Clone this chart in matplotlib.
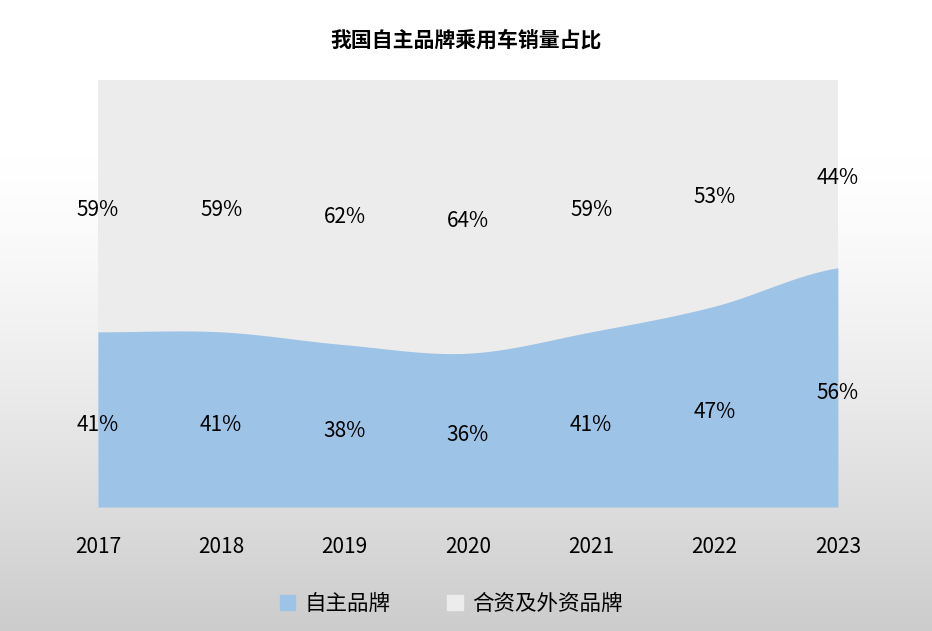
import numpy as np
import matplotlib
matplotlib.use("Agg")
import matplotlib.pyplot as plt

plt.rcParams['font.family'] = ['Noto Sans CJK SC', 'DejaVu Sans']

years = ['2017', '2018', '2019', '2020', '2021', '2022', '2023']
domestic = [41, 41, 38, 36, 41, 47, 56]
foreign = [59, 59, 62, 64, 59, 53, 44]

def smooth(x, y, n=30):
    # Catmull-Rom spline for the smoothed area edge
    x = np.asarray(x, float); y = np.asarray(y, float)
    px = np.concatenate([[2 * x[0] - x[1]], x, [2 * x[-1] - x[-2]]])
    py = np.concatenate([[y[0]], y, [y[-1]]])
    xs, ys = [], []
    for i in range(1, len(px) - 2):
        t = np.linspace(0, 1, n, endpoint=False)
        for p, out in ((px, xs), (py, ys)):
            p0, p1, p2, p3 = p[i - 1], p[i], p[i + 1], p[i + 2]
            out.append(0.5 * (2 * p1 + (-p0 + p2) * t + (2 * p0 - 5 * p1 + 4 * p2 - p3) * t ** 2
                              + (-p0 + 3 * p1 - 3 * p2 + p3) * t ** 3))
    xs.append([x[-1]]); ys.append([y[-1]])
    return np.concatenate(xs), np.concatenate(ys)

fig = plt.figure(figsize=(9.32, 6.31), dpi=100)
bg = fig.add_axes([0, 0, 1, 1], zorder=-10)
grad = np.linspace(0, 1, 256).reshape(-1, 1)
grad = 1 - 0.2 * np.clip((grad - 0.25) / 0.75, 0, 1) ** 1.3
bg.imshow(np.dstack([grad, grad, grad]), aspect='auto', extent=[0, 1, 0, 1], vmin=0, vmax=1)
bg.axis('off')

ax = fig.add_axes([0.105, 0.1965, 0.794, 0.677])
x = np.arange(len(years))
sx, sy = smooth(x, domestic)
ax.fill_between(sx, 0, 100, color='#ececec', lw=0)
ax.fill_between(sx, 0, sy, color='#9dc3e6', lw=0)
ax.set_xlim(0, len(years) - 1)
ax.set_ylim(0, 100)
for i in range(len(years)):
    ax.text(x[i], domestic[i] / 2 - 1.2, f'{domestic[i]}%', ha='center', va='center', fontsize=15)
    ax.text(x[i], domestic[i] + foreign[i] / 2 - 1.0, f'{foreign[i]}%', ha='center', va='center', fontsize=15)
    ax.text(x[i], -9.3, years[i], ha='center', va='center', fontsize=15)
ax.axis('off')

fig.text(0.5, 0.937, '我国自主品牌乘用车销量占比', ha='center', va='center', fontsize=15, fontweight='bold')

fig.patches.append(plt.Rectangle((0.300, 0.033), 0.017, 0.024, transform=fig.transFigure, color='#9dc3e6'))
fig.text(0.327, 0.043, '自主品牌', va='center', fontsize=15.5)
fig.patches.append(plt.Rectangle((0.480, 0.033), 0.017, 0.024, transform=fig.transFigure, color='#ececec'))
fig.text(0.507, 0.043, '合资及外资品牌', va='center', fontsize=15.5)

fig.savefig('out.png', dpi=100)
